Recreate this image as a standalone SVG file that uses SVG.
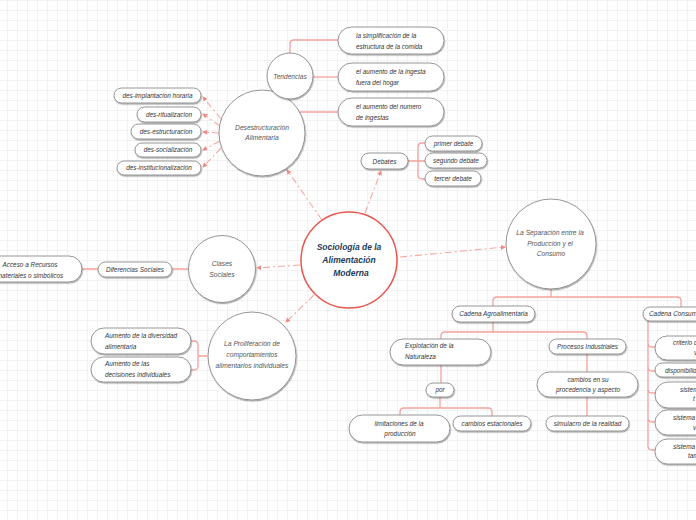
<svg xmlns="http://www.w3.org/2000/svg" width="696" height="520" viewBox="0 0 696 520">
<defs>
<pattern id="grid" x="7" y="0" width="10" height="10" patternUnits="userSpaceOnUse">
<path d="M0.5,0 V10 M0,0.5 H10" fill="none" stroke="#f2f2f2" stroke-width="1"/>
</pattern>
<filter id="sh" x="-20%" y="-20%" width="140%" height="170%">
<feDropShadow dx="0.6" dy="1.2" stdDeviation="0.7" flood-color="#000" flood-opacity="0.35"/>
</filter>
<marker id="ah" viewBox="0 0 6 6" refX="5" refY="3" markerWidth="5" markerHeight="5" markerUnits="userSpaceOnUse" orient="auto">
<path d="M0,0 L6,3 L0,6 z" fill="#f08a82"/>
</marker>
</defs>
<style>
.pill{fill:#fff;stroke:#8a8a8a;stroke-width:0.9;filter:url(#sh)}
.circ{fill:#fff;stroke:#8a8a8a;stroke-width:0.9;filter:url(#sh)}
.root{fill:#fff;stroke:#e8564e;stroke-width:1.5}
.t{font-family:"Liberation Sans",Arial,sans-serif;font-style:italic;font-size:6.4px;fill:#333}
.tc{font-family:"Liberation Sans",Arial,sans-serif;font-style:italic;font-size:6.7px;fill:#555;text-anchor:middle}
.tr{font-family:"Liberation Sans",Arial,sans-serif;font-style:italic;font-weight:bold;font-size:8.5px;fill:#1c3a5a;text-anchor:middle}
.m{text-anchor:middle}
.ln{fill:none;stroke:#f4a39c;stroke-width:1.3}
.dl{fill:none;stroke:#f6aaa3;stroke-width:1.1;stroke-dasharray:7 3 2 3;marker-end:url(#ah)}
</style>
<rect width="696" height="520" fill="#ffffff"/>
<rect width="696" height="520" fill="url(#grid)"/>

<g id="connectors">
<path class="dl" d="M322,220 L287,170"/>
<path class="dl" d="M365,213 L381,171"/>
<path class="dl" d="M400,257 L505,247"/>
<path class="dl" d="M300,265 L257,268"/>
<path class="dl" d="M314,295 L286,322"/>
<path class="dl" d="M221,119 L203,97"/>
<path class="dl" d="M220,126 L203,114"/>
<path class="dl" d="M219,133 L203,132"/>
<path class="dl" d="M220,141 L203,150"/>
<path class="dl" d="M221,148 L203,167"/>
<path class="ln" d="M290,53 V44 Q290,40 294,40 H338"/>
<path class="ln" d="M313,77 H338"/>
<path class="ln" d="M300,112 H338"/>
<path class="ln" d="M408,161 H418 M425,143 H422 Q418,143 418,147 V175 Q418,179 422,179 H425 M418,161 H425"/>
<path class="ln" d="M207,356 H198 M191,341 H194 Q198,341 198,345 V366 Q198,370 194,370 H191"/>
<path class="ln" d="M82,269 H98 M172,269 H189"/>
<path class="ln" d="M551,289 V297 M493,306 V301 Q493,297 497,297 H677 Q681,297 681,301 V307"/>
<path class="ln" d="M493,322 V332 M441,339 V336 Q441,332 445,332 H583 Q587,332 587,336 V339"/>
<path class="ln" d="M441,365 V383 M440,397 V408 M400,415 V412 Q400,408 404,408 H488 Q492,408 492,412 V416"/>
<path class="ln" d="M587,354 V372 M587,397 V416"/>
<path class="ln" d="M648,321 V446 Q648,450 652,450 H656 M648,343 Q648,347 652,347 H656 M648,367 Q648,371 652,371 H656 M648,389 Q648,393 652,393 H656 M648,418 Q648,422 652,422 H656"/>
</g>

<g id="root">
<circle class="root" cx="349" cy="260" r="48"/>
<text class="tr" x="349" y="250">Sociología de la</text>
<text class="tr" x="349" y="263">Alimentación</text>
<text class="tr" x="351" y="276">Moderna</text>
</g>

<g id="desestructuracion">
<circle class="circ" cx="262" cy="133" r="43"/>
<text class="tc" x="262" y="129.5">Desestructuración</text>
<text class="tc" x="262" y="139.5">Alimentaria</text>
</g>
<g id="tendencias">
<circle class="circ" cx="290" cy="76" r="23"/>
<text class="tc" x="290" y="79.3" style="font-size:6.6px">Tendencias</text>
</g>
<g id="tend1"><rect class="pill" x="338" y="27" width="106" height="27" rx="13.5"/>
<text class="t" x="356" y="38">la simplificación de la</text><text class="t" x="356" y="48.5">estructura de la comida</text></g>
<g id="tend2"><rect class="pill" x="338" y="63" width="106" height="28" rx="14"/>
<text class="t" x="356" y="74">el aumento de la ingesta</text><text class="t" x="356" y="84.5">fuera del hogar</text></g>
<g id="tend3"><rect class="pill" x="338" y="98" width="106" height="28" rx="14"/>
<text class="t" x="356" y="109">el aumento del numero</text><text class="t" x="356" y="119.5">de ingestas</text></g>

<g id="des1"><rect class="pill" x="114" y="88" width="87" height="15" rx="7.5"/><text class="t m" x="157.5" y="97.8">des-implantacion horaria</text></g>
<g id="des2"><rect class="pill" x="137" y="107" width="64" height="15" rx="7.5"/><text class="t m" x="169" y="116.8">des-ritualizacion</text></g>
<g id="des3"><rect class="pill" x="131" y="124" width="70" height="15" rx="7.5"/><text class="t m" x="166" y="133.8">des-estructuracion</text></g>
<g id="des4"><rect class="pill" x="135" y="143" width="66" height="14" rx="7"/><text class="t m" x="168" y="152.3">des-socialización</text></g>
<g id="des5"><rect class="pill" x="117" y="161" width="84" height="14" rx="7"/><text class="t m" x="159" y="170.3">des-institucionalización</text></g>

<g id="debates"><rect class="pill" x="361" y="153" width="47" height="16" rx="8"/><text class="t m" x="384.5" y="163.5">Debates</text></g>
<g id="deb1"><rect class="pill" x="425" y="136" width="57" height="15" rx="7.5"/><text class="t m" x="453.5" y="145.8">primer debate</text></g>
<g id="deb2"><rect class="pill" x="425" y="153" width="62" height="15" rx="7.5"/><text class="t m" x="456" y="162.8">segundo debate</text></g>
<g id="deb3"><rect class="pill" x="425" y="171" width="56" height="15" rx="7.5"/><text class="t m" x="453" y="180.8">tercer debate</text></g>

<g id="clases">
<circle class="circ" cx="222" cy="269" r="33.5"/>
<text class="tc" x="222" y="265.5">Clases</text>
<text class="tc" x="222" y="276.5">Sociales</text>
</g>
<g id="diferencias"><rect class="pill" x="98" y="262" width="74" height="15" rx="7.5"/><text class="t m" x="135" y="271.8">Diferencias Sociales</text></g>
<g id="acceso"><rect class="pill" x="-24" y="256" width="106" height="26" rx="13"/>
<text class="t m" x="30" y="266.5">Acceso a Recursos</text><text class="t m" x="30" y="277.5">materiales o simbólicos</text></g>

<g id="proliferacion">
<circle class="circ" cx="252" cy="356" r="44"/>
<text class="tc" x="252" y="345.5">La Proliferación de</text>
<text class="tc" x="252" y="356.5">comportamientos</text>
<text class="tc" x="252" y="368">alimentarios individuales</text>
</g>
<g id="prol1"><rect class="pill" x="91" y="328" width="100" height="26" rx="13"/>
<text class="t" x="105" y="338">Aumento de la diversidad</text><text class="t" x="105" y="348.5">alimentaria</text></g>
<g id="prol2"><rect class="pill" x="91" y="357" width="100" height="25" rx="12.5"/>
<text class="t" x="105" y="366">Aumento de las</text><text class="t" x="105" y="377">decisiones individuales</text></g>

<g id="separacion">
<circle class="circ" cx="551" cy="244" r="45"/>
<text class="tc" x="550" y="234.5">La  Separación entre la</text>
<text class="tc" x="550" y="245.5">Producción  y el</text>
<text class="tc" x="551" y="256">Consumo</text>
</g>

<g id="agro"><rect class="pill" x="452" y="306" width="83" height="16" rx="8"/><text class="t m" x="493.5" y="316.3">Cadena Agroalimentaria</text></g>
<g id="explotacion"><rect class="pill" x="390" y="339" width="101" height="26" rx="13"/>
<text class="t" x="405" y="348">Explotación de la</text><text class="t" x="405" y="359">Naturaleza</text></g>
<g id="por"><rect class="pill" x="426" y="383" width="28" height="14" rx="7"/><text class="t m" x="440" y="392.3">por</text></g>
<g id="limitaciones"><rect class="pill" x="349" y="415" width="101" height="27" rx="13.5"/>
<text class="t m" x="399" y="425.5">limitaciones de la</text><text class="t m" x="400" y="436">producción</text></g>
<g id="estacionales"><rect class="pill" x="453" y="416" width="78" height="15" rx="7.5"/><text class="t m" x="492" y="425.8">cambios estacionales</text></g>
<g id="procesos"><rect class="pill" x="549" y="339" width="77" height="15" rx="7.5"/><text class="t m" x="587.5" y="348.8">Procesos Industriales</text></g>
<g id="cambios"><rect class="pill" x="537" y="372" width="101" height="25" rx="12.5"/>
<text class="t m" x="588" y="381.5">cambios en su</text><text class="t m" x="588" y="391.5">procedencia y aspecto</text></g>
<g id="simulacro"><rect class="pill" x="546" y="416" width="83" height="15" rx="7.5"/><text class="t m" x="587.5" y="425.8">simulacro de la realidad</text></g>

<g id="consumo"><rect class="pill" x="643" y="307" width="100" height="14" rx="7"/><text class="t" x="649" y="316.3">Cadena Consum</text></g>
<g id="cons1"><rect class="pill" x="655" y="336" width="100" height="24" rx="12"/>
<text class="t" x="673" y="344.5">criterio d</text><text class="t" x="694" y="354.5">v</text></g>
<g id="cons2"><rect class="pill" x="655" y="363" width="100" height="14" rx="7"/><text class="t" x="665" y="372.5">disponibilid</text></g>
<g id="cons3"><rect class="pill" x="655" y="382" width="100" height="26" rx="13"/>
<text class="t" x="680" y="391.5">sistem</text><text class="t" x="693" y="400.5">t</text></g>
<g id="cons4"><rect class="pill" x="655" y="410" width="100" height="25" rx="12.5"/>
<text class="t" x="673" y="419.5">sistema</text><text class="t" x="693" y="429.5">v</text></g>
<g id="cons5"><rect class="pill" x="655" y="439" width="100" height="25" rx="12.5"/>
<text class="t" x="673" y="448.5">sistema</text><text class="t" x="688" y="457.5">tam</text></g>
</svg>
